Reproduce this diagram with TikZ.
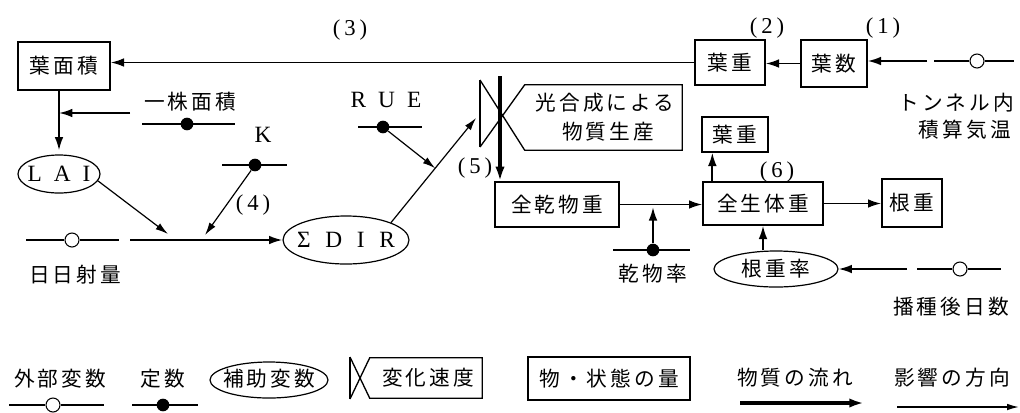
\documentclass[tikz,border=0pt]{standalone}
\usepackage{fontspec}
\newfontfamily\jpfam[LetterSpace=15]{Noto Sans CJK JP}
\newfontfamily\latfam{Liberation Serif}
\newcommand\jpf{\jpfam\fontsize{15.5pt}{18pt}\selectfont}
\newcommand\latf{\latfam\fontsize{17.5pt}{20pt}\selectfont}
\newcommand\numf{\latfam\fontsize{17pt}{19pt}\selectfont}
\usetikzlibrary{arrows.meta,shapes.geometric,calc}
\begin{document}
\begin{tikzpicture}[x=0.75pt,y=-0.75pt,
  box/.style={draw, line width=1pt, inner sep=0pt, font=\jpf},
  ell/.style={draw, ellipse, line width=0.9pt, inner sep=0pt},
  lbl/.style={inner sep=0pt, font=\jpf},
  latlbl/.style={inner sep=0pt, font=\latf},
  numlbl/.style={inner sep=0pt, font=\numf},
  sym/.style={line width=1pt},
  thinarr/.style={line width=0.9pt, -{Latex[length=9.5pt,width=5.5pt]}},
  medarr/.style={line width=1.4pt, -{Latex[length=10pt,width=6.5pt]}},
  thickarr/.style={line width=2.6pt, -{Latex[length=11pt,width=7pt]}},
  extc/.style={circle, draw, fill=white, minimum size=10.5pt, inner sep=0pt, line width=0.8pt},
  constc/.style={circle, fill=black, minimum size=9.5pt, inner sep=0pt}]
\useasboundingbox[fill=white] (0,0) rectangle (1020,412);

% ---- boxes ----
\node[box, minimum width=69pt, minimum height=36pt] (lfa) at (64,66) {葉面積};
\node[box, minimum width=52.5pt, minimum height=33.75pt] (lw1) at (730,62.5) {葉重};
\node[box, minimum width=49.5pt, minimum height=35.25pt] (ln) at (834,63.5) {葉数};
\node[box, minimum width=93pt, minimum height=33.75pt] (tdw) at (557,204.5) {全乾物重};
\node[box, minimum width=90pt, minimum height=32.25pt] (tfw) at (763,203.5) {全生体重};
\node[box, minimum width=49.5pt, minimum height=26.25pt] (lw2) at (735,134.5) {葉重};
\node[box, minimum width=45pt, minimum height=36pt] (rw) at (912,203) {根重};

% ---- ellipses ----
\node[ell, minimum width=61.5pt, minimum height=28.5pt] (lai) at (59,174) {};
\node[latlbl] (laitxt) at (lai) {L\hspace{9pt}A\hspace{9pt}I};
\node[ell, minimum width=94.5pt, minimum height=36pt] (sdir) at (346,240) {};
\node[latlbl] (sdirtxt) at (sdir) {Σ\hspace{11pt}D\hspace{11pt}I\hspace{11pt}R};
\node[ell, minimum width=93pt, minimum height=27pt] (rwr) at (776,269) {};
\node[lbl] (rwrtxt) at (rwr) {根重率};

% ---- valve (photosynthesis rate) ----
\node[minimum width=117.75pt, minimum height=48.75pt, inner sep=0pt] (vbox) at (603.5,117.5) {};
\node[lbl] (vt1) at (605,103) {光合成による};
\node[lbl] (vt2) at (608,132) {物質生産};
\coordinate (vtl) at (480,80);
\coordinate (vbl) at (480,147);
\draw[sym] (vtl) -- (vbl);
\draw[sym] (vtl) -- (vbox.south west) -- (vbox.south east) -- (vbox.north east) -- (vbox.north west) -- (vbl);

% ---- external variable symbols ----
\node[extc] (tc) at (977,61) {};
\draw[sym] (tc.west) -- ++(-35,0);
\draw[sym] (tc.east) -- ++(29,0);
\node[extc] (rc) at (72,240) {};
\draw[sym] (rc.west) -- ++(-38,0);
\draw[sym] (rc.east) -- ++(39,0);
\node[extc] (sc) at (960,269) {};
\draw[sym] (sc.west) -- ++(-35,0);
\draw[sym] (sc.east) -- ++(33,0);

% ---- constant symbols ----
\draw[sym] (142,124) -- (235,124);
\node[constc] (c1) at (187,124) {};
\draw[sym] (222,165) -- (287,165);
\node[constc] (ck) at (255,165) {};
\draw[sym] (358,127) -- (422,127);
\node[constc] (cr) at (383,127) {};
\draw[sym] (613,250) -- (690,250);
\node[constc] (cd) at (653,250) {};

% ---- connectors ----
\draw[medarr] (lw1.west) -- (lw1.west -| lfa.east);
\draw[medarr] (ln.west) -- (ln.west -| lw1.east);
\coordinate (ta) at (927,61);
\draw[medarr] (ta) -- (ta -| ln.east);
\draw[medarr, shorten >=3pt] (lai.north |- lfa.south) -- (lai.north);
\coordinate (ia) at (130,113);
\draw[medarr] (ia) -- (ia -| lai.north);
\coordinate (j1) at (168,234);
\draw[thinarr] (lai.-10) -- (j1);
\coordinate (j2) at (205,235);
\draw[thinarr] (ck) -- (j2);
\coordinate (ra) at (130,240);
\draw[medarr] (ra) -- (sdir.west);
\coordinate (vin) at (476,118);
\draw[thinarr] (sdir.north east) -- (vin);
\draw[thinarr] (cr) -- ($(sdir.north east)!0.52!(vin)$);
\coordinate (v5) at (500,76);
\draw[thickarr] (v5) -- (v5 |- tdw.north);
\draw[medarr] (tdw.east) -- (tdw.east -| tfw.west);
\draw[medarr, shorten >=2pt] (cd) -- (cd |- tdw.east);
\coordinate (u6) at ($(tfw.north west)+(10,0)$);
\draw[medarr] (u6) -- (u6 |- lw2.south);
\draw[medarr] (tfw.east) -- (tfw.east -| rw.west);
\draw[medarr] (tfw.south |- rwr.north) -- (tfw.south);
\coordinate (sa) at (907,269);
\draw[medarr] (sa) -- (rwr.east);

% ---- labels ----
\node[numlbl] (n1) at (883,28) {(\hspace{3pt}1\hspace{3pt})};
\node[numlbl] (n2) at (767,28) {(\hspace{3pt}2\hspace{3pt})};
\node[numlbl] (n3) at (350,30) {(\hspace{3pt}3\hspace{3pt})};
\node[numlbl] (n4) at (253,205) {(\hspace{3pt}4\hspace{3pt})};
\node[numlbl] (n5) at (475,168) {(\hspace{3pt}5\hspace{3pt})};
\node[numlbl] (n6) at (777,172) {(\hspace{3pt}6\hspace{3pt})};
\node[lbl] (t1) at (190,102) {一株面積};
\node[latlbl] (tk) at (263,135) {K};
\node[latlbl] (true) at (386,100) {R\hspace{9pt}U\hspace{9pt}E};
\node[lbl] (trad) at (75,275) {日日射量};
\node[lbl] (tdr) at (653,274) {乾物率};
\node[lbl, anchor=east] (ttun1) at (1014,103) {トンネル内};
\node[lbl, anchor=east] (ttun2) at (1011,130) {積算気温};
\node[lbl] (tsow) at (951,307) {播種後日数};

% ---- legend ----
\node[lbl] (g1) at (60,379) {外部変数};
\node[extc] (glc) at (53,405) {};
\draw[sym] (glc.west) -- ++(-36,0);
\draw[sym] (glc.east) -- ++(43,0);
\node[lbl] (g2) at (163,379) {定数};
\draw[sym] (132,405) -- (198,405);
\node[constc] (gcd) at (163,405) {};
\node[ell, minimum width=88.5pt, minimum height=27pt] (gell) at (269,380) {};
\node[lbl] (g3) at (269,379) {補助変数};
\node[minimum width=84pt, minimum height=30pt, inner sep=0pt] (gvb) at (426,378) {};
\coordinate (gvt) at (350,357);
\coordinate (gvbl) at (350,399);
\draw[sym] (gvt) -- (gvbl);
\draw[sym] (gvt) -- (gvb.south west) -- (gvb.south east) -- (gvb.north east) -- (gvb.north west) -- (gvbl);
\node[lbl] (g4) at (428,378) {変化速度};
\node[box, minimum width=121.5pt, minimum height=32.25pt] (g5) at (609,378.5) {物・状態の量};
\node[lbl] (g6) at (795,378) {物質の流れ};
\coordinate (gf1) at (740,403);
\coordinate (gf2) at (864,403);
\draw[line width=2.4pt, -{Latex[length=11pt,width=7pt]}] (gf1) -- (gf2);
\node[lbl] (g7) at (952,378) {影響の方向};
\coordinate (gi1) at (897,407);
\coordinate (gi2) at (1019,407);
\draw[line width=1.1pt, -{Latex[length=9pt,width=5pt]}] (gi1) -- (gi2);
\end{tikzpicture}
\end{document}
